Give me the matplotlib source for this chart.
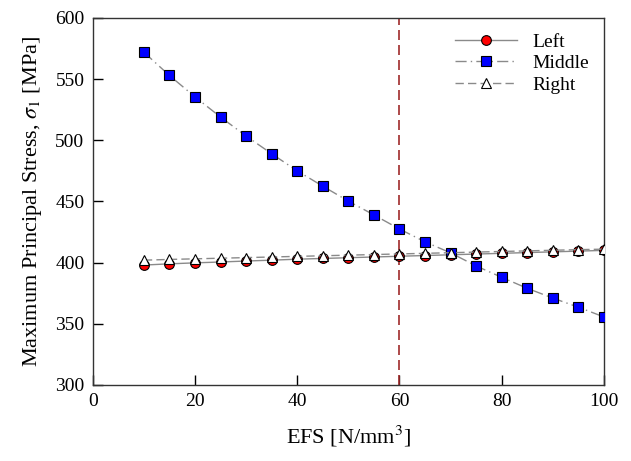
import matplotlib
matplotlib.use("Agg")
import matplotlib.pyplot as plt

plt.rcParams['font.family'] = ['Liberation Serif', 'DejaVu Serif']
plt.rcParams['mathtext.fontset'] = 'stix'

efs = [10, 15, 20, 25, 30, 35, 40, 45, 50, 55, 60, 65, 70, 75, 80, 85, 90, 95, 100]
left = [398, 399, 399.8, 400.5, 401.3, 402, 402.8, 403.4, 404, 404.6, 405.2, 405.8, 406.4, 407, 407.6, 408.2, 408.8, 409.4, 410]
middle = [572, 553, 535.5, 519, 503.5, 489, 475, 462.5, 450.3, 439, 427.5, 417, 408, 397.3, 388, 379, 371, 363.6, 355.6]
right = [402, 402.6, 403.1, 403.6, 404.1, 404.6, 405.1, 405.6, 406.1, 406.6, 407.1, 407.6, 408.1, 408.6, 409.1, 409.6, 410.1, 410.6, 411]
vline_x = 60

fig = plt.figure(figsize=(6.31, 4.61), dpi=100)
ax = fig.add_axes([0.147, 0.165, 0.81, 0.796])

lc = '#8a8a8a'
ax.plot(efs, left, linestyle='-', color=lc, lw=1.0, marker='o', ms=7,
        mfc='red', mec='black', mew=0.8, label='Left', zorder=3)
ax.plot(efs, middle, linestyle=(0, (8, 3, 1, 3)), color=lc, lw=1.0, marker='s', ms=7,
        mfc='#0000ff', mec='black', mew=0.8, label='Middle', zorder=3)
ax.plot(efs, right, linestyle=(0, (6, 3)), color=lc, lw=1.0, marker='^', ms=7,
        mfc='white', mec='black', mew=0.8, label='Right', zorder=4)
ax.axvline(vline_x, color='#a02a2a', lw=1.2, linestyle=(0, (6, 3)), zorder=2)

ax.set_xlim(0, 100)
ax.set_ylim(300, 600)
ax.set_xticks(range(0, 101, 20))
ax.set_yticks(range(300, 601, 50))
ax.tick_params(direction='in', labelsize=14, length=7, width=1, top=False, right=False, pad=6)
for s in ax.spines.values():
    s.set_linewidth(1.0)
    s.set_color('#333333')

ax.set_xlabel('EFS [N/mm$^3$]', fontsize=16, labelpad=10)
ax.set_ylabel('Maximum Principal Stress, $\\sigma_1$ [MPa]', fontsize=16, labelpad=8)

leg = ax.legend(loc='upper right', frameon=False, fontsize=14, handlelength=3.2,
                borderaxespad=0.5, labelspacing=0.2, bbox_to_anchor=(1.005, 1.007))

fig.savefig('out.png', dpi=100)
